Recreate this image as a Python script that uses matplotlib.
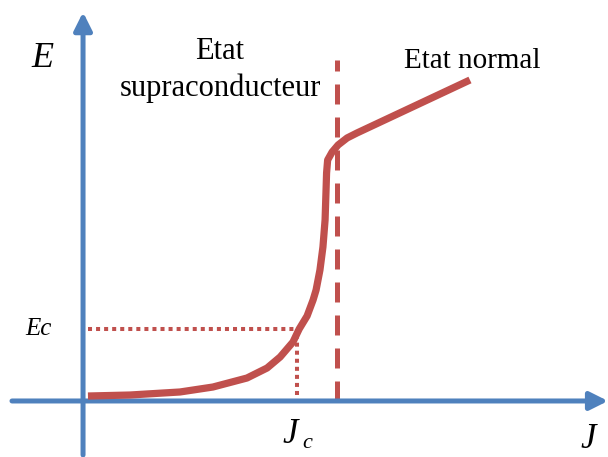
import matplotlib.pyplot as plt

# E(J) characteristic, J in units of Jc, E in units of Ec
J = [0.023, 0.220, 0.453, 0.607, 0.766, 0.860, 0.921, 0.981, 1.01,
     1.047, 1.075, 1.089, 1.107, 1.121, 1.131, 1.136, 1.138, 1.143,
     1.164, 1.192, 1.234, 1.280, 1.808]
E = [0.069, 0.083, 0.125, 0.194, 0.319, 0.458, 0.611, 0.819, 1.0,
     1.181, 1.403, 1.542, 1.819, 2.139, 2.514, 2.972, 3.167, 3.347,
     3.458, 3.556, 3.653, 3.722, 4.458]

Jc = 1.0
Ec = 1.0
J_transition = 1.187    # dashed vertical line
E_transition_top = 4.74

blue = "#4f81bd"
red = "#c0504d"

fig = plt.figure(figsize=(6.08, 4.57), dpi=100)
ax = fig.add_axes([0, 0, 1, 1])
ax.set_xlim(-0.388, 2.453)
ax.set_ylim(-0.778, 5.569)
ax.axis("off")

# -----------------------------
# Axes arrows
# -----------------------------
arrow = dict(arrowstyle="-|>", lw=3.6, color=blue, mutation_scale=27,
             shrinkA=0, shrinkB=0)
ax.annotate("", xy=(2.453, 0), xytext=(-0.332, 0), arrowprops=arrow)
ax.annotate("", xy=(0, 5.40), xytext=(0, -0.75), arrowprops=arrow)

# -----------------------------
# Ec / Jc guides
# -----------------------------
ax.plot([J[0], Jc], [Ec, Ec], color=red, lw=2.9, dashes=(1, 1),
        dash_capstyle="butt")
ax.plot([Jc, Jc], [0.08, Ec], color=red, lw=2.9, dashes=(1, 1),
        dash_capstyle="butt")
ax.plot([J_transition, J_transition], [0.0, E_transition_top], color=red,
        lw=3.6, dashes=(4, 2.6), dash_capstyle="butt")

# -----------------------------
# Curve
# -----------------------------
ax.plot(J, E, color=red, lw=5.2, solid_joinstyle="round",
        solid_capstyle="butt", zorder=5)

# -----------------------------
# Labels
# -----------------------------
serif = "Liberation Serif"
ax.text(-0.19, 4.76, "E", family=serif, style="italic", fontsize=26,
        ha="center", va="center")
ax.text(-0.21, 1.0, "Ec", family=serif, style="italic", fontsize=18,
        ha="center", va="center")
ax.text(2.36, -0.54, "J", family=serif, style="italic", fontsize=25,
        ha="center", va="center")
ax.text(0.97, -0.47, "J", family=serif, style="italic", fontsize=25,
        ha="center", va="center")
ax.text(1.05, -0.59, "c", family=serif, style="italic", fontsize=16,
        ha="center", va="center")
ax.text(0.64, 4.86, "Etat", family=serif, fontsize=22,
        ha="center", va="center")
ax.text(0.64, 4.35, "supraconducteur", family=serif, fontsize=22,
        ha="center", va="center")
ax.text(1.818, 4.72, "Etat normal", family=serif, fontsize=21,
        ha="center", va="center")

fig.savefig("out.png", dpi=100)
